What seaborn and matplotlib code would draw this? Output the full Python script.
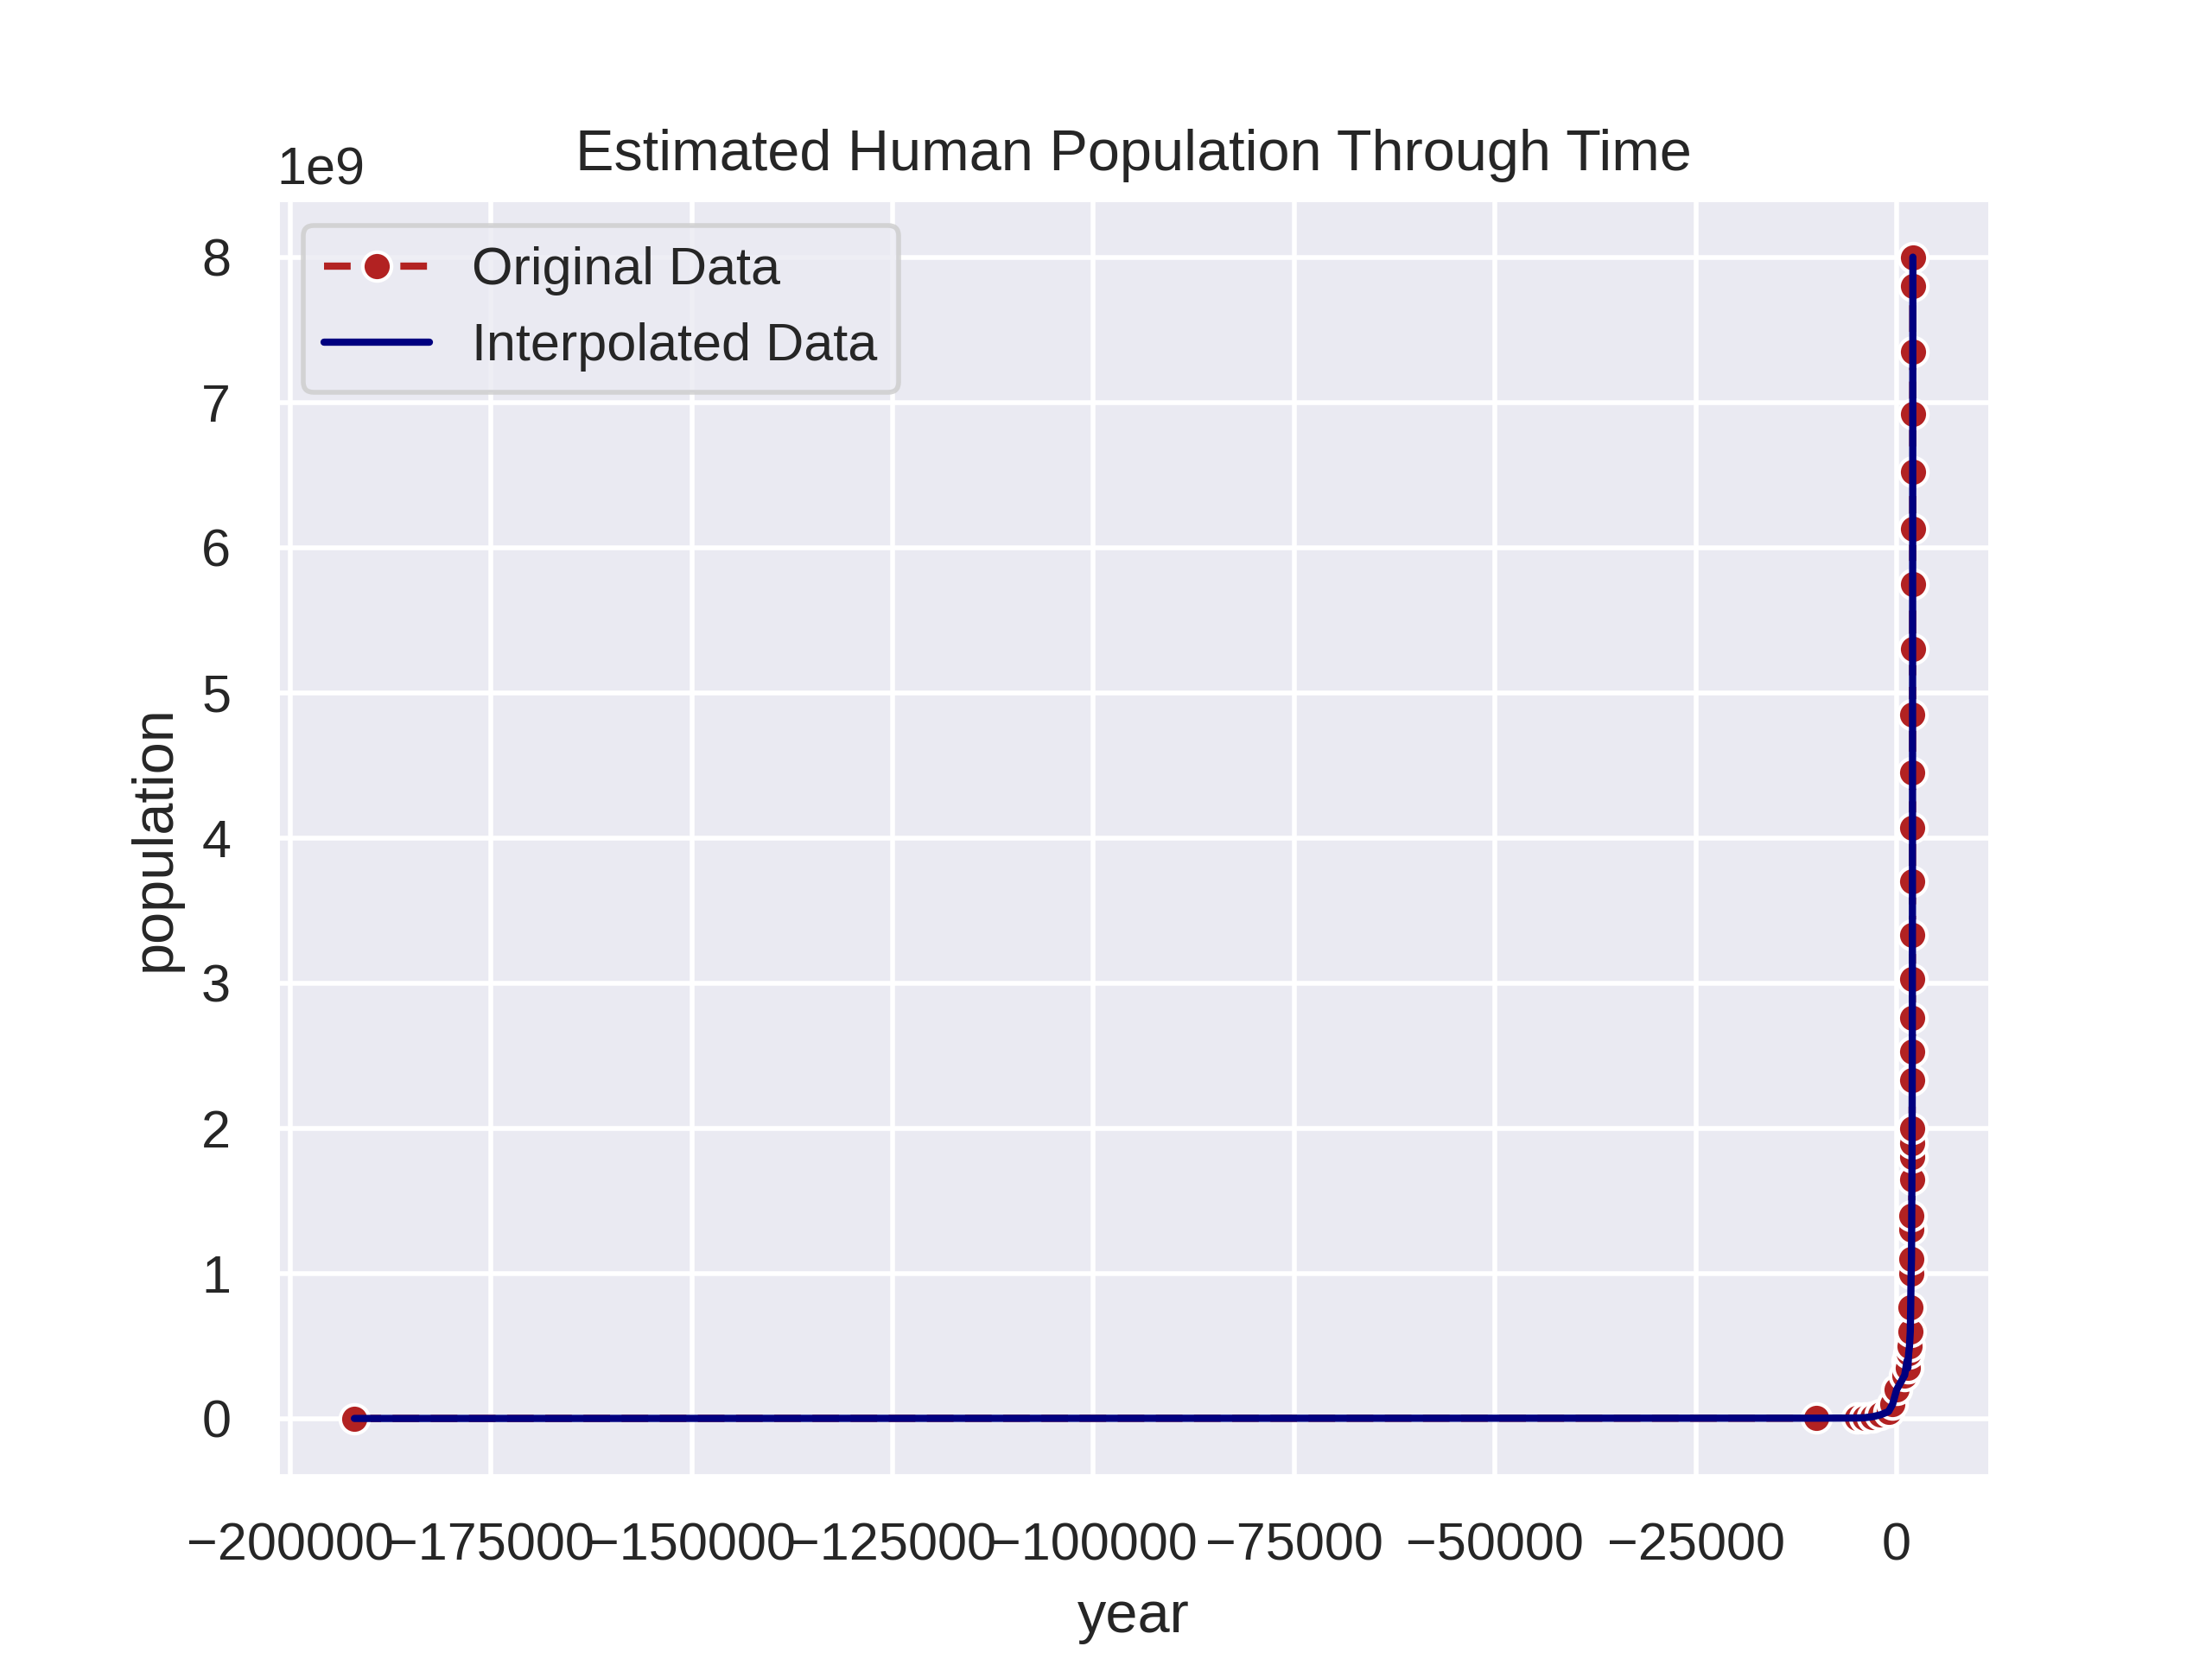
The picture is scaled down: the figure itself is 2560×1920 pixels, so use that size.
import matplotlib
matplotlib.use("Agg")
import matplotlib.pyplot as plt
import pandas as pd
import seaborn as sns

# population estimates
years = [-192000, -10000, -5000, -4000, -3000, -2000, -1000, -500, 1,
         1000, 1300, 1400, 1500, 1600, 1700, 1750, 1804, 1850, 1870, 1880,
         1900, 1914, 1920, 1927, 1940, 1950, 1955, 1960, 1965, 1970, 1975,
         1980, 1985, 1990, 1995, 2000, 2005, 2010, 2015, 2020, 2023]
population = [2e6, 4e6, 5e6, 7e6, 14e6, 27e6, 50e6, 100e6, 200e6,
              300e6, 400e6, 350e6, 450e6, 500e6, 600e6, 770e6, 1.0e9, 1.1e9,
              1.3e9, 1.4e9, 1.65e9, 1.8e9, 1.9e9, 2.0e9, 2.33e9, 2.53e9,
              2.76e9, 3.03e9, 3.33e9, 3.7e9, 4.07e9, 4.45e9, 4.85e9, 5.3e9,
              5.75e9, 6.13e9, 6.52e9, 6.92e9, 7.35e9, 7.8e9, 8.0e9]


def main():
    df = pd.DataFrame({'year': years, 'population': population})

    sns.set_theme(style="darkgrid")
    plt.rcParams['font.family'] = ['Liberation Sans', 'DejaVu Sans']

    fig, ax = plt.subplots(figsize=(6.4, 4.8), dpi=400)
    sns.lineplot(data=df, x='year', y='population', ax=ax, marker='o',
                 linestyle='--', color='firebrick', markeredgecolor='white',
                 label='Original Data')
    sns.lineplot(data=df, x='year', y='population', ax=ax,
                 color='navy', label='Interpolated Data')

    ax.set_title('Estimated Human Population Through Time')
    ax.legend(loc='upper left')
    fig.savefig('out.png')


if __name__ == "__main__":
    main()
